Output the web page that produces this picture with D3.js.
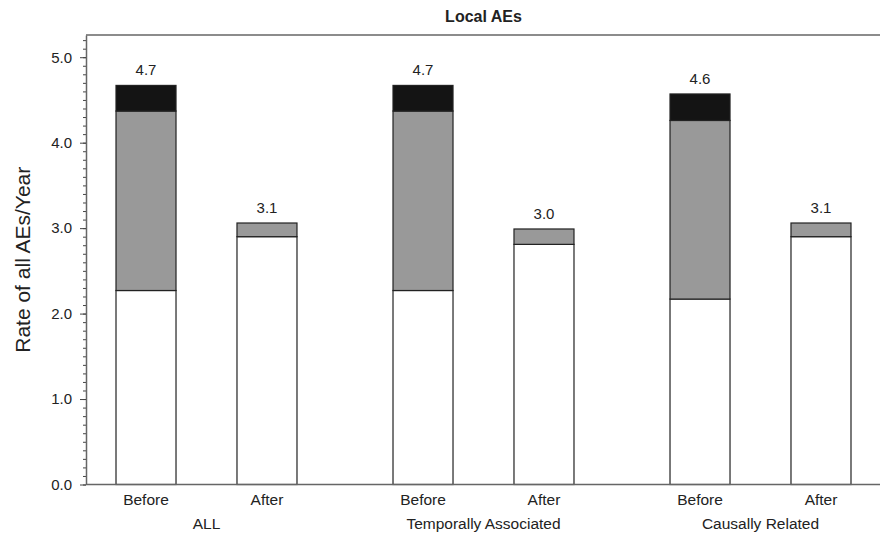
<!DOCTYPE html>
<html>
<head>
<meta charset="utf-8">
<script src="https://cdn.jsdelivr.net/npm/d3@7"></script>
<style>
  body { margin: 0; background: #fff; }
  text { font-family: "Liberation Sans", Arial, Helvetica, sans-serif; fill: #222; }
</style>
</head>
<body>
<svg width="880" height="534"></svg>
<script>
// data
var groups = ["ALL", "Temporally Associated", "Causally Related"];
var periods = ["Before", "After"];
var whiteSeg = [2.27, 2.90, 2.27, 2.81, 2.17, 2.90];
var graySeg  = [2.10, 0.16, 2.10, 0.18, 2.09, 0.16];
var blackSeg = [0.30, 0.00, 0.30, 0.00, 0.31, 0.00];
var totalLabels = ["4.7", "3.1", "4.7", "3.0", "4.6", "3.1"];
var yMajor = [0, 1, 2, 3, 4, 5];

var rows = [];
groups.forEach(function (g, gi) {
  periods.forEach(function (p, pi) {
    var i = gi * 2 + pi;
    rows.push({ group: g, period: p, white: whiteSeg[i], gray: graySeg[i], black: blackSeg[i], label: totalLabels[i] });
  });
});

var svg = d3.select("svg"),
    plotL = 86, plotR = 881, plotT = 35, plotB = 484.5;

var x0 = d3.scaleBand().domain(groups).range([plotL, plotR]).paddingInner(0.13).paddingOuter(0);
var x1 = d3.scaleBand().domain(periods).range([0, x0.bandwidth()]).paddingInner(0.504).paddingOuter(0.248);
var y = d3.scaleLinear().domain([0, 5.26]).range([plotB, plotT]);

var stack = d3.stack().keys(["white", "gray", "black"]);
var series = stack(rows);
var fills = { white: "#ffffff", gray: "#999999", black: "#141414" };

// Title
svg.append("text")
  .attr("x", (plotL + plotR) / 2)
  .attr("y", 22)
  .attr("text-anchor", "middle")
  .style("font-size", "16px")
  .style("font-weight", "bold")
  .text("Local AEs");

// Y label
svg.append("text")
  .attr("text-anchor", "middle")
  .attr("transform", "translate(30," + ((plotT + plotB) / 2) + ")rotate(-90)")
  .style("font-size", "21px")
  .text("Rate of all AEs/Year");

// bars
svg.append("g")
  .selectAll("g")
  .data(series)
  .enter().append("g")
  .attr("fill", function (d) { return fills[d.key]; })
  .selectAll("rect")
  .data(function (d) { return d.filter(function (s) { return s[1] - s[0] > 0; }); })
  .enter().append("rect")
  .attr("x", function (d) { return x0(d.data.group) + x1(d.data.period); })
  .attr("y", function (d) { return y(d[1]); })
  .attr("width", x1.bandwidth())
  .attr("height", function (d) { return y(d[0]) - y(d[1]); })
  .attr("stroke", "#222")
  .attr("stroke-width", 1.2);

// value labels
svg.append("g")
  .selectAll("text")
  .data(rows)
  .enter().append("text")
  .attr("x", function (d) { return x0(d.group) + x1(d.period) + x1.bandwidth() / 2; })
  .attr("y", function (d) { return y(d.white + d.gray + d.black) - 10; })
  .attr("text-anchor", "middle")
  .style("font-size", "15px")
  .text(function (d) { return d.label; });

// y axis, minor then major
svg.append("g")
  .attr("transform", "translate(" + plotL + ",0)")
  .call(d3.axisLeft(y).tickValues(d3.range(0, 53).map(function (v) { return v / 10; }))
        .tickSize(3).tickSizeOuter(0).tickFormat(""))
  .call(function (g) { g.select(".domain").remove(); g.selectAll("line").attr("stroke", "#444"); });

var yAxis = svg.append("g")
  .attr("transform", "translate(" + plotL + ",0)")
  .call(d3.axisLeft(y).tickValues(yMajor).tickFormat(d3.format(".1f"))
        .tickSize(6).tickSizeOuter(0).tickPadding(8));
yAxis.select(".domain").attr("stroke", "#666").attr("stroke-width", 1.5);
yAxis.selectAll("line").attr("stroke", "#444");
yAxis.selectAll("text").style("font-size", "15px").attr("fill", "#222")
  .style("font-family", "'Liberation Sans', Arial, sans-serif");

// top frame line and x axis line
svg.append("line")
  .attr("x1", plotL).attr("x2", plotR).attr("y1", plotT).attr("y2", plotT)
  .attr("stroke", "#666").attr("stroke-width", 1.5);
svg.append("line")
  .attr("x1", plotL).attr("x2", plotR).attr("y1", plotB).attr("y2", plotB)
  .attr("stroke", "#666").attr("stroke-width", 1.5);

// x labels
svg.append("g")
  .selectAll("text")
  .data(rows)
  .enter().append("text")
  .attr("x", function (d) { return x0(d.group) + x1(d.period) + x1.bandwidth() / 2; })
  .attr("y", 505)
  .attr("text-anchor", "middle")
  .style("font-size", "15.5px")
  .text(function (d) { return d.period; });

svg.append("g")
  .selectAll("text")
  .data(groups)
  .enter().append("text")
  .attr("x", function (d) { return x0(d) + x0.bandwidth() / 2; })
  .attr("y", 529)
  .attr("text-anchor", "middle")
  .style("font-size", "15.5px")
  .text(function (d) { return d; });
</script>
</body>
</html>
